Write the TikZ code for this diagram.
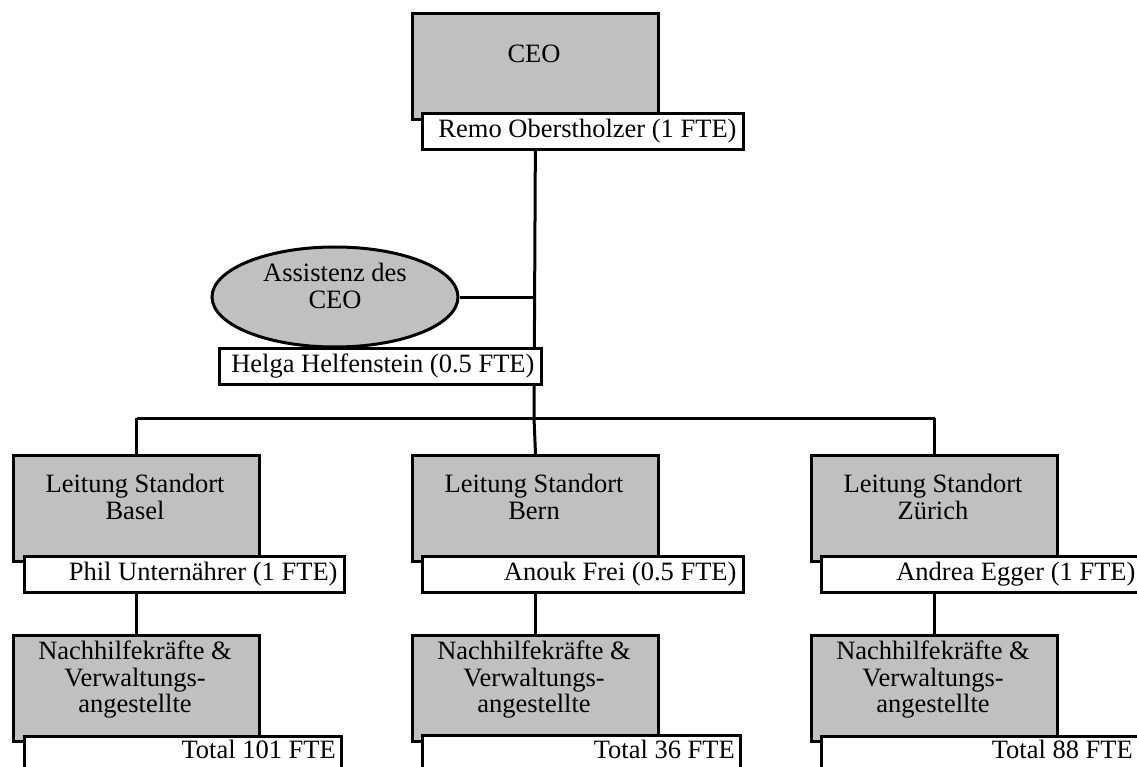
\documentclass[tikz,border=0pt]{standalone}
\usepackage{fontspec}
\setmainfont{Liberation Serif}
\usetikzlibrary{shapes.geometric,backgrounds}
\definecolor{boxgray}{RGB}{192,192,192}
\newcommand{\rbox}[2]{\makebox[#1][r]{#2}}
\tikzset{
  graybox/.style={draw=black, line width=3pt, fill=boxgray, inner sep=0pt, anchor=north west, minimum width=246pt, minimum height=106pt},
  namebox/.style={draw=black, line width=3pt, fill=white, anchor=north west, inner xsep=7pt, inner ysep=0pt, minimum height=36pt, font=\fontsize{26.5}{26.5}\selectfont},
  totalbox/.style={draw=black, line width=3pt, fill=white, anchor=north west, inner sep=0pt, minimum height=38pt},
  boxtext/.style={align=center, inner sep=0pt, font=\fontsize{26.5}{26.5}\selectfont},
  totaltext/.style={anchor=base east, inner sep=0pt, font=\fontsize{26.5}{26.5}\selectfont},
  conn/.style={draw=black, line width=3pt},
  assistant/.style={ellipse, draw=black, line width=3pt, fill=boxgray, minimum width=246pt, minimum height=100pt, inner sep=0pt}
}
\begin{document}
\begin{tikzpicture}[x=1pt,y=-1pt]
\useasboundingbox (0,0) rectangle (1137,767);
\clip (0,0) rectangle (1137,767);
% CEO
\node[graybox] (ceo) at (411,12) {};
\node[boxtext] (ceoT) at (534,54) {CEO};
% Assistant
\node[assistant] (asst) at (335,297) {};
\node[boxtext] (asstT) at (335,286) {Assistenz des\\CEO};
% Leitung
\node[graybox] (basel) at (12,454) {};
\node[boxtext] (baselT) at (135,497) {Leitung Standort\\Basel};
\node[graybox] (bern) at (411,454) {};
\node[boxtext] (bernT) at (534,497) {Leitung Standort\\Bern};
\node[graybox] (zuri) at (810,454) {};
\node[boxtext] (zuriT) at (933,497) {Leitung Standort\\Zürich};
% Staff
\node[graybox] (baselN) at (12,634) {};
\node[boxtext] (baselNT) at (135,680) {Nachhilfekräfte \&\\Verwaltungs-\\angestellte};
\node[graybox] (bernN) at (411,634) {};
\node[boxtext] (bernNT) at (534,680) {Nachhilfekräfte \&\\Verwaltungs-\\angestellte};
\node[graybox] (zuriN) at (810,634) {};
\node[boxtext] (zuriNT) at (933,680) {Nachhilfekräfte \&\\Verwaltungs-\\angestellte};
% connectors
\begin{scope}[on background layer]
\coordinate (jct) at (534,418);
\draw[conn] (ceo.south) -- (jct);
\draw[conn] (asst.east) -- (asst.east -| ceo.south);
\draw[conn] (basel.north |- jct) -- (zuri.north |- jct);
\draw[conn] (basel.north |- jct) -- (basel.north);
\draw[conn] (jct) -- (bern.north);
\draw[conn] (zuri.north |- jct) -- (zuri.north);
\draw[conn] (basel.south) -- (baselN.north);
\draw[conn] (bern.south) -- (bernN.north);
\draw[conn] (zuri.south) -- (zuriN.north);
\end{scope}
% name boxes
\node[namebox] (ceoName) at (421,112) {\rbox{307pt}{Remo Oberstholzer (1 FTE)}};
\node[namebox] (asstName) at (218,347) {\rbox{308pt}{Helga Helfenstein (0.5 FTE)}};
\node[namebox] (baselName) at (23,555) {\rbox{306pt}{Phil Unternährer (1 FTE)}};
\node[namebox] (bernName) at (421,555) {\rbox{307pt}{Anouk Frei (0.5 FTE)}};
\node[namebox] (zuriName) at (820,555) {\rbox{307pt}{Andrea Egger (1 FTE)}};
% total boxes
\node[totalbox, minimum width=317pt] (baselTot) at (23,735) {};
\node[totaltext] (baselTotT) at ([xshift=-7pt,yshift=-23pt]baselTot.north east) {Total 101 FTE};
\node[totalbox, minimum width=318pt] (bernTot) at (421,734) {};
\node[totaltext] (bernTotT) at ([xshift=-7pt,yshift=-24pt]bernTot.north east) {Total 36 FTE};
\node[totalbox, minimum width=317pt] (zuriTot) at (820,735) {};
\node[totaltext] (zuriTotT) at ([xshift=-7pt,yshift=-23pt]zuriTot.north east) {Total 88 FTE};
\end{tikzpicture}
\end{document}
